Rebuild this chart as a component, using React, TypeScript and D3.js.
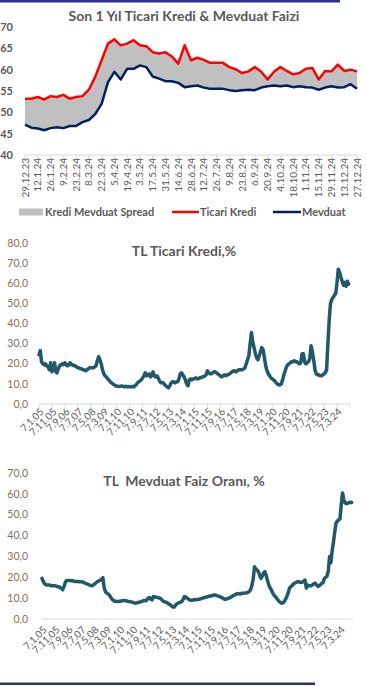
import React, { useRef, useEffect } from "react";
import * as d3 from "d3";

const FONT = "Lato, 'Open Sans', sans-serif";
const GREY = "#595959";

// Son 1 yıl, haftalık (29.12.23 - 27.12.24)
const weekLabels = [
  "29.12.23", "12.1.24", "26.1.24", "9.2.24", "23.2.24", "8.3.24", "22.3.24",
  "5.4.24", "19.4.24", "3.5.24", "17.5.24", "31.5.24", "14.6.24", "28.6.24",
  "12.7.24", "26.7.24", "9.8.24", "23.8.24", "6.9.24", "20.9.24", "4.10.24",
  "18.10.24", "1.11.24", "15.11.24", "29.11.24", "13.12.24", "27.12.24",
];
const ticariWeekly = [
  53.2, 53.2, 53.6, 53.0, 53.8, 53.6, 54.1, 53.2, 53.6, 53.8, 55.3, 58.3, 62.2,
  66.1, 67.1, 65.7, 66.1, 66.9, 65.7, 65.5, 64.1, 63.8, 64.1, 63.1, 61.4, 65.7,
  62.2, 62.8, 62.3, 61.6, 61.6, 61.6, 60.6, 60.1, 59.2, 59.6, 60.6, 59.5, 57.7,
  59.5, 60.6, 59.7, 58.9, 59.2, 60.2, 60.4, 57.7, 59.7, 59.6, 61.2, 59.7, 60.0, 59.6,
];
const mevduatWeekly = [
  47.1, 46.4, 46.2, 45.8, 46.3, 46.5, 46.3, 46.8, 46.8, 47.7, 48.2, 49.6, 52.0,
  57.1, 59.5, 57.7, 60.2, 60.2, 61.0, 60.6, 58.4, 57.9, 57.3, 57.3, 56.9, 55.9,
  56.1, 56.3, 55.8, 55.5, 55.5, 55.5, 55.2, 55.0, 55.2, 55.3, 55.2, 55.8, 56.1,
  56.3, 56.1, 56.3, 55.9, 56.1, 55.9, 55.8, 55.3, 55.8, 56.1, 55.8, 55.9, 56.6, 55.5,
];

// Uzun dönem, aylık (Ocak 2005 - Aralık 2024)
const longStart = new Date(2005, 0, 7);
const longLabels = [
  "7.1.05", "7.11.05", "7.9.06", "7.7.07", "7.5.08", "7.3.09", "7.1.10", "7.11.10",
  "7.9.11", "7.7.12", "7.5.13", "7.3.14", "7.1.15", "7.11.15", "7.9.16", "7.7.17",
  "7.5.18", "7.3.19", "7.1.20", "7.11.20", "7.9.21", "7.7.22", "7.5.23", "7.3.24",
];
const ticariMonthly = [
  24.5, 26.5, 21, 20, 19.5, 20, 19, 18.5, 17, 20.5, 16, 17.5,
  20.5, 16, 15.5, 17.5, 19, 19.5, 20, 19.5, 20.5, 19.5, 19, 19.5,
  20.5, 19.5, 19.5, 19, 19, 18.5, 18, 18, 17.5, 17.5, 17, 17,
  16.5, 17, 17.5, 18, 18, 18, 18, 18.5, 19, 21.5, 23.5, 22,
  20, 17, 15, 14, 13.5, 12.5, 12, 11, 10.5, 10, 9.5, 9,
  9, 8.8, 8.7, 8.8, 9, 8.7, 8.6, 8.8, 8.5, 8.7, 8.6, 8.5,
  8.7, 8.5, 9, 9.5, 10.5, 11, 11.5, 12, 13, 14, 15.5, 14,
  14.5, 15, 13.5, 14, 16, 14, 13.5, 14, 13, 11.5, 10.5, 10.5,
  10.5, 9.5, 9, 8.5, 8, 9, 10.5, 11, 11, 10.5, 11, 11,
  12.5, 15, 15.5, 14.5, 13.5, 12, 10, 9, 12, 12.5, 12, 12.5,
  12.5, 13, 12.5, 12.5, 13, 13, 13.5, 13.5, 14, 14.5, 16.5, 15.5,
  15, 15, 15.5, 16, 16, 15.5, 15, 14.5, 14, 13.5, 14, 14.5,
  14, 14.5, 14.5, 15, 15.5, 16, 16.5, 16.5, 16, 16.5, 17, 17,
  17, 17, 17.5, 18, 20, 22, 24, 30, 35.5, 31, 28, 25,
  23, 22, 24, 26, 28, 27, 23, 19, 16.5, 15, 14, 13,
  12.5, 12, 11.5, 10.5, 10, 9.5, 9.5, 10, 12, 14.5, 16.5, 18.5,
  19.5, 20, 20.5, 21, 21, 21.5, 21, 21, 20.5, 20, 20.5, 25,
  25, 21, 20, 20.5, 21, 22.5, 29, 26, 22, 17, 15, 14.5,
  14.5, 14, 14, 14.5, 15, 15.5, 17, 30, 42, 50, 52, 53,
  54, 55, 60, 67, 65.5, 63, 61, 59, 60.5, 58.5, 61, 59.5,
];
const mevduatMonthly = [
  19.5, 18, 17, 16.5, 16.3, 16.3, 16.3, 16, 16, 16, 16, 15.8,
  15.5, 15.5, 15, 14.8, 14, 15.5, 17.5, 18.5, 18.5, 18.4, 18.4, 18.3,
  18.2, 18.1, 18, 18, 18, 17.9, 17.8, 17.8, 17.5, 17.3, 17, 16.8,
  16.5, 16.2, 16, 16, 16.5, 17, 17.5, 18, 18.3, 18.6, 19.2, 19.8,
  15, 13, 12.5, 12, 11.5, 10.5, 9.5, 9, 8.5, 8.5, 8.4, 8.4,
  8.5, 8.6, 8.8, 8.8, 8.9, 8.7, 8.5, 8.4, 8.3, 8.2, 8, 7.8,
  7.6, 7.7, 7.9, 8, 8.2, 8.4, 8.7, 8.9, 8.7, 9.2, 10, 10.3,
  9.5, 9.2, 10.8, 10.6, 10.5, 10.3, 10.2, 10, 9.5, 8.8, 8.4, 8.2,
  8, 7.6, 7.2, 6.8, 6.3, 5.8, 5.7, 6.5, 7.2, 7.6, 7.8, 8.2,
  8.4, 9.5, 10.8, 10.5, 10, 9.5, 9.2, 9, 9, 9.2, 9.3, 9.2,
  9.4, 9.5, 9.6, 9.8, 10, 10.2, 10.4, 10.5, 10.7, 10.9, 11, 11.1,
  11.4, 11.6, 11.4, 11.2, 11, 10.8, 10.5, 10.2, 9.8, 9.5, 9.5, 9.7,
  10, 10.2, 10.5, 11, 11.3, 11.6, 12, 12.2, 12.1, 12, 12.3, 12.4,
  12.4, 12.5, 12.6, 12.8, 13.2, 14, 16, 19, 25, 24, 23.5, 22.7,
  21, 19.5, 20.5, 22, 22.7, 21, 18.7, 16.5, 15, 14, 12.5, 11.5,
  10.8, 10, 9.2, 8.5, 8, 7.6, 7.8, 8.4, 9.5, 10.8, 12.5, 14.8,
  15.5, 16, 16.8, 17.2, 17.5, 17.9, 17.9, 17.6, 17.5, 17.8, 18, 18.7,
  14.8, 16.3, 16, 15.9, 15.9, 16.5, 17, 17.1, 16.3, 15.6, 16, 16.5,
  17.1, 17.5, 19.5, 20, 20.5, 23, 30, 27, 33, 37, 42, 46,
  47, 47.5, 48, 55, 60.4, 57, 55.6, 55.3, 55.5, 55.8, 56, 55.9,
];

const comma = (v: number) => d3.format(".1f")(v).replace(".", ",");

export default function App() {
  const ref = useRef<SVGSVGElement | null>(null);
  const width = 367, height = 686;

  useEffect(() => {
    const svg = d3.select(ref.current);
    svg.selectAll("*").remove();
    svg.append("rect").attr("width", width).attr("height", height).attr("fill", "#fff");

    // page rules
    svg.append("rect").attr("x", 0).attr("y", 0).attr("width", 340).attr("height", 2.5).attr("fill", "#2e3192");
    svg.append("rect").attr("x", 0).attr("y", 682.5).attr("width", 315).attr("height", 2.5).attr("fill", "#1f3864");

    // ---- chart 1: son 1 yıl
    const x1 = d3.scaleLinear().domain([0, ticariWeekly.length - 1]).range([25, 357]);
    const y1 = d3.scaleLinear().domain([40, 70]).range([155, 27]);
    const g1 = svg.append("g");

    g1.append("text").attr("x", 184).attr("y", 21).attr("text-anchor", "middle")
      .attr("font-family", FONT).attr("font-weight", "bold").attr("font-size", 14)
      .attr("fill", GREY).text("Son 1 Yıl Ticari Kredi & Mevduat Faizi");

    g1.selectAll(".yl").data(y1.ticks(6)).join("text")
      .attr("x", 13).attr("y", d => y1(d)).attr("dy", "0.35em").attr("text-anchor", "end")
      .attr("font-family", FONT).attr("font-weight", "bold").attr("font-size", 11)
      .attr("fill", GREY).text(d => d);

    const spread = d3.area<number>()
      .x((_, i) => x1(i))
      .y0((_, i) => y1(mevduatWeekly[i]))
      .y1(d => y1(d));
    g1.append("path").datum(ticariWeekly).attr("d", spread).attr("fill", "#c0c0c0");

    const line1 = d3.line<number>().x((_, i) => x1(i)).y(d => y1(d));
    g1.append("path").datum(ticariWeekly).attr("d", line1).attr("fill", "none")
      .attr("stroke", "#ff0000").attr("stroke-width", 2.5).attr("stroke-linejoin", "round");
    g1.append("path").datum(mevduatWeekly).attr("d", line1).attr("fill", "none")
      .attr("stroke", "#002060").attr("stroke-width", 2.5).attr("stroke-linejoin", "round");

    g1.append("line").attr("x1", x1(0)).attr("x2", x1(52)).attr("y1", 155).attr("y2", 155)
      .attr("stroke", "#d9d9d9");
    weekLabels.forEach((lab, i) => {
      const xp = x1(i * 2);
      g1.append("line").attr("x1", xp).attr("x2", xp).attr("y1", 155).attr("y2", 159)
        .attr("stroke", "#d9d9d9");
      g1.append("text").attr("transform", `translate(${xp + 3.5},158) rotate(-90)`)
        .attr("text-anchor", "end").attr("font-family", FONT).attr("font-size", 10)
        .attr("fill", GREY).text(lab);
    });

    // legend
    const lg = g1.append("g").attr("font-family", FONT).attr("font-weight", "bold")
      .attr("font-size", 11).attr("fill", GREY);
    lg.append("rect").attr("x", 19).attr("y", 208.5).attr("width", 24).attr("height", 7).attr("fill", "#c0c0c0");
    lg.append("text").attr("x", 45).attr("y", 212).attr("dy", "0.35em").text("Kredi Mevduat Spread");
    lg.append("line").attr("x1", 172).attr("x2", 199).attr("y1", 212).attr("y2", 212)
      .attr("stroke", "#ff0000").attr("stroke-width", 2.5);
    lg.append("text").attr("x", 200).attr("y", 212).attr("dy", "0.35em").text("Ticari Kredi");
    lg.append("line").attr("x1", 273).attr("x2", 301).attr("y1", 212).attr("y2", 212)
      .attr("stroke", "#002060").attr("stroke-width", 2.5);
    lg.append("text").attr("x", 302).attr("y", 212).attr("dy", "0.35em").text("Mevduat");

    // ---- long charts
    function longChart(opts: {
      title: string; values: number[]; yMax: number; top: number; bottom: number;
      left: number; titleY: number; labelGap: number; ticks: boolean;
    }) {
      const g = svg.append("g");
      const end = d3.timeMonth.offset(longStart, 240);
      const x = d3.scaleTime().domain([longStart, end]).range([opts.left, opts.left + 311]);
      const y = d3.scaleLinear().domain([0, opts.yMax]).range([opts.bottom, opts.top]);

      g.append("text").attr("x", 184).attr("y", opts.titleY).attr("dy", "0.35em")
        .attr("text-anchor", "middle").attr("font-family", FONT).attr("font-weight", "bold")
        .attr("font-size", 14).attr("fill", GREY).attr("xml:space", "preserve").text(opts.title);

      g.selectAll(".yl").data(d3.range(0, opts.yMax + 1, 10)).join("text")
        .attr("x", 28).attr("y", d => y(d)).attr("dy", "0.35em").attr("text-anchor", "end")
        .attr("font-family", FONT).attr("font-size", 10.5).attr("fill", "#7f6f60")
        .text(d => comma(d));

      g.append("line").attr("x1", x.range()[0]).attr("x2", x.range()[1])
        .attr("y1", opts.bottom).attr("y2", opts.bottom).attr("stroke", "#d9d9d9");

      const tickDates = d3.range(0, 25).map(i => d3.timeMonth.offset(longStart, i * 10));
      if (opts.ticks) {
        tickDates.forEach(d => {
          g.append("line").attr("x1", x(d)).attr("x2", x(d)).attr("y1", opts.bottom)
            .attr("y2", opts.bottom + 4).attr("stroke", "#d9d9d9");
        });
      }
      longLabels.forEach((lab, i) => {
        const xp = x(tickDates[i]);
        g.append("text")
          .attr("transform", `translate(${xp + 3},${opts.bottom + opts.labelGap}) rotate(-45)`)
          .attr("text-anchor", "end").attr("dy", "0.35em").attr("font-family", FONT)
          .attr("font-size", 10).attr("fill", GREY).text(lab);
      });

      const line = d3.line<number>()
        .x((_, i) => x(d3.timeMonth.offset(longStart, i)))
        .y(d => y(d));
      g.append("path").datum(opts.values).attr("d", line).attr("fill", "none")
        .attr("stroke", "#215968").attr("stroke-width", 3.5)
        .attr("stroke-linejoin", "round").attr("stroke-linecap", "round");
    }

    longChart({ title: "TL Ticari Kredi,%", values: ticariMonthly, yMax: 80, top: 243,
      bottom: 404, left: 39, titleY: 251, labelGap: 6, ticks: true });
    longChart({ title: "TL  Mevduat Faiz Oranı, %", values: mevduatMonthly, yMax: 70, top: 473,
      bottom: 619, left: 42, titleY: 481, labelGap: 9, ticks: false });
  }, []);

  return (
    <svg ref={ref} width={width} height={height}
      style={{ position: "absolute", left: 0, top: 0, display: "block" }} />
  );
}
